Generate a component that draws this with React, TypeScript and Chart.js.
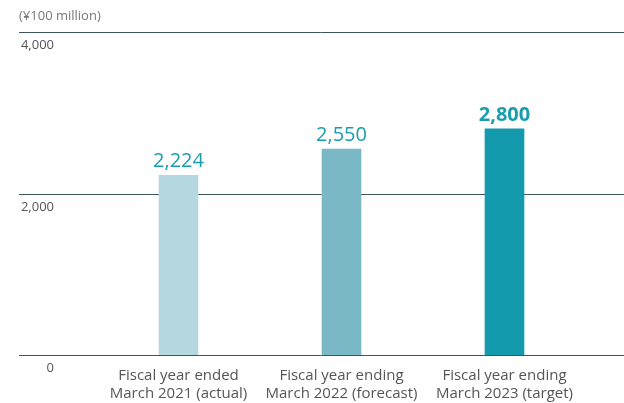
import React, { useEffect, useRef } from "react";
import { Chart, registerables } from "chart.js";

Chart.register(...registerables);

const categories: string[][] = [
  ["Fiscal year ended", "March 2021 (actual)"],
  ["Fiscal year ending", "March 2022 (forecast)"],
  ["Fiscal year ending", "March 2023 (target)"],
];
const values: number[] = [2224, 2550, 2800];
const valueLabels: string[] = ["2,224", "2,550", "2,800"];
const barColors: string[] = ["#b5d7e0", "#79b8c4", "#139aad"];
const yTicks: number[] = [0, 2000, 4000];
const yTickLabels: string[] = ["0", "2,000", "4,000"];
const unitLabel = "(¥100 million)";

const FONT = "'Open Sans', 'Noto Sans', sans-serif";

const overlayPlugin = {
  id: "overlay",
  beforeDatasetsDraw(chart: any) {
    const ctx = chart.ctx;
    const y = chart.scales.y;
    ctx.save();
    ctx.strokeStyle = "#3d5561";
    ctx.lineWidth = 1;
    yTicks.forEach((v, i) => {
      const py = Math.round(y.getPixelForValue(v)) + 0.5;
      ctx.beginPath();
      ctx.moveTo(19, py);
      ctx.lineTo(chart.width, py);
      ctx.stroke();
      ctx.fillStyle = "#555555";
      ctx.font = `13px ${FONT}`;
      ctx.textAlign = "right";
      ctx.textBaseline = "middle";
      ctx.fillText(yTickLabels[i], 54, py + 13);
    });
    ctx.fillStyle = "#777777";
    ctx.font = `13px ${FONT}`;
    ctx.textAlign = "left";
    ctx.textBaseline = "middle";
    ctx.fillText(unitLabel, 19, 16);
    ctx.restore();
  },
  afterDatasetsDraw(chart: any) {
    const ctx = chart.ctx;
    const meta = chart.getDatasetMeta(0);
    ctx.save();
    meta.data.forEach((bar: any, i: number) => {
      const last = i === values.length - 1;
      ctx.fillStyle = "#1a9dae";
      ctx.font = `${last ? "bold " : ""}20px ${FONT}`;
      ctx.textAlign = "center";
      ctx.textBaseline = "alphabetic";
      ctx.fillText(valueLabels[i], bar.x, bar.y - 8);
    });
    ctx.restore();
  },
};

export default function App() {
  const ref = useRef<HTMLCanvasElement | null>(null);
  useEffect(() => {
    if (!ref.current) return;
    const chart = new Chart(ref.current, {
      type: "bar",
      data: {
        labels: categories,
        datasets: [
          {
            data: values,
            backgroundColor: barColors,
            borderWidth: 0,
            barThickness: 39,
          },
        ],
      },
      options: {
        animation: false,
        responsive: false,
        devicePixelRatio: 1,
        layout: { padding: { left: 97, right: 38, top: 32, bottom: 0 } },
        plugins: { legend: { display: false }, tooltip: { enabled: false } },
        scales: {
          x: {
            grid: { display: false, drawTicks: false },
            border: { display: false },
            ticks: {
              color: "#555555",
              font: { family: FONT, size: 15 },
              padding: 12,
              maxRotation: 0,
              autoSkip: false,
            },
            afterFit: (scale: any) => {
              scale.height = 48;
            },
          },
          y: {
            display: false,
            min: 0,
            max: 4000,
          },
        },
      },
      plugins: [overlayPlugin],
    });
    return () => chart.destroy();
  }, []);
  return (
    <div style={{ position: "absolute", left: 0, top: 0, width: 624, height: 403, background: "#fff" }}>
      <canvas ref={ref} width={624} height={403} />
    </div>
  );
}
